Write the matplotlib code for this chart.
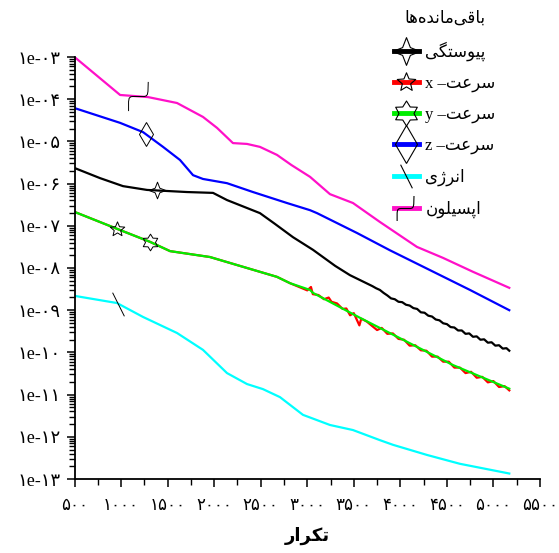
import numpy as np
import matplotlib
matplotlib.use("Agg")
import matplotlib.pyplot as plt
from matplotlib.path import Path
from matplotlib.lines import Line2D
from matplotlib.ticker import FixedLocator, LogLocator, FuncFormatter, NullFormatter

# residual history, log10 of residual against iteration
cont_it = [500, 774, 1021, 1279, 1708, 1988, 2138, 2492, 2650, 2847, 3062, 3300, 3459,
           3700, 3740, 3780, 3820, 3860, 3900, 3940, 3980, 4020, 4060, 4100, 4140, 4180,
           4220, 4260, 4300, 4340, 4380, 4420, 4460, 4500, 4540, 4580, 4620, 4660, 4700,
           4740, 4780, 4820, 4860, 4900, 4940, 4980, 5020, 5060, 5100, 5140, 5170]
cont_log = [-5.63, -5.87, -6.06, -6.15, -6.20, -6.22, -6.39, -6.70, -6.95, -7.27, -7.57, -7.95, -8.17,
            -8.43, -8.48, -8.52, -8.59, -8.65, -8.72, -8.74, -8.80, -8.81, -8.87, -8.89, -8.95, -8.97,
            -9.05, -9.06, -9.13, -9.15, -9.22, -9.24, -9.31, -9.33, -9.40, -9.41, -9.48, -9.48, -9.56,
            -9.55, -9.63, -9.62, -9.70, -9.69, -9.77, -9.76, -9.84, -9.83, -9.91, -9.90, -9.96]

vy_it = [500, 989, 1311, 1526, 1955, 2353, 2675, 2815, 3030, 3062, 3566, 4135, 4565, 5170]
vy_log = [-6.67, -7.10, -7.38, -7.60, -7.74, -8.00, -8.21, -8.36, -8.52, -8.59, -9.18, -9.82, -10.30, -10.86]

vx_it = [500, 989, 1311, 1526, 1955, 2353, 2675, 2815, 3000, 3040, 3060, 3120, 3180, 3230,
         3260, 3320, 3380, 3420, 3460, 3500, 3560, 3580, 3640, 3700, 3750, 3800, 3860, 3920,
         3980, 4040, 4100, 4160, 4220, 4280, 4340, 4400, 4460, 4520, 4580, 4640, 4700, 4760,
         4820, 4880, 4940, 5000, 5060, 5120, 5170]
vx_log = [-6.67, -7.10, -7.38, -7.60, -7.74, -8.00, -8.21, -8.36, -8.53, -8.45, -8.62, -8.64, -8.74, -8.70,
          -8.80, -8.84, -8.97, -8.96, -9.12, -9.07, -9.36, -9.20, -9.27, -9.38, -9.47, -9.42, -9.56, -9.55,
          -9.68, -9.70, -9.84, -9.83, -9.95, -9.96, -10.10, -10.10, -10.22, -10.22, -10.36, -10.36, -10.49, -10.46,
          -10.60, -10.58, -10.71, -10.68, -10.82, -10.80, -10.90]

vz_it = [500, 989, 1236, 1451, 1633, 1773, 1880, 2138, 2417, 2782, 3030, 3105, 3534, 3888, 4318, 4748, 5170]
vz_log = [-4.21, -4.56, -4.78, -5.13, -5.44, -5.80, -5.89, -5.99, -6.20, -6.46, -6.63, -6.70, -7.17,
          -7.58, -8.05, -8.52, -9.00]

en_it = [500, 956, 1236, 1601, 1880, 2138, 2353, 2524, 2707, 2954, 3244, 3491, 3781, 3921, 4286, 4640, 5170]
en_log = [-8.66, -8.83, -9.16, -9.54, -9.94, -10.49, -10.75, -10.87, -11.06, -11.48, -11.72, -11.84,
          -12.08, -12.19, -12.43, -12.64, -12.87]

eps_it = [500, 990, 1290, 1601, 1880, 2031, 2202, 2353, 2492, 2675, 2830, 3030, 3244, 3491, 3781,
          4178, 4458, 4780, 5170]
eps_log = [-3.00, -3.90, -3.95, -4.09, -4.42, -4.68, -5.04, -5.06, -5.13, -5.32, -5.56, -5.84, -6.25,
           -6.46, -6.91, -7.50, -7.76, -8.09, -8.47]

# iteration where each series carries its symbol
mark_it = {"cont": 1386, "vx": 956, "vy": 1311, "vz": 1268, "en": 966, "eps": 1190}

x_ticks = [500, 1000, 1500, 2000, 2500, 3000, 3500, 4000, 4500, 5000, 5500]

FA_DIGITS = str.maketrans("0123456789", "۰۱۲۳۴۵۶۷۸۹")

# contextual forms: isolated, final, initial, medial
FORMS = {
    "ا": ("\uFE8D", "\uFE8E", None, None),
    "ب": ("\uFE8F", "\uFE90", "\uFE91", "\uFE92"),
    "پ": ("\uFB56", "\uFB57", "\uFB58", "\uFB59"),
    "ت": ("\uFE95", "\uFE96", "\uFE97", "\uFE98"),
    "س": ("\uFEB1", "\uFEB2", "\uFEB3", "\uFEB4"),
    "ع": ("\uFEC9", "\uFECA", "\uFECB", "\uFECC"),
    "ر": ("\uFEAD", "\uFEAE", None, None),
    "ز": ("\uFEAF", "\uFEB0", None, None),
    "ژ": ("\uFB8A", "\uFB8B", None, None),
    "ک": ("\uFB8E", "\uFB8F", "\uFB90", "\uFB91"),
    "گ": ("\uFB92", "\uFB93", "\uFB94", "\uFB95"),
    "ی": ("\uFBFC", "\uFBFD", "\uFBFE", "\uFBFF"),
    "ق": ("\uFED5", "\uFED6", "\uFED7", "\uFED8"),
    "م": ("\uFEE1", "\uFEE2", "\uFEE3", "\uFEE4"),
    "ن": ("\uFEE5", "\uFEE6", "\uFEE7", "\uFEE8"),
    "د": ("\uFEA9", "\uFEAA", None, None),
    "ه": ("\uFEE9", "\uFEEA", "\uFEEB", "\uFEEC"),
    "و": ("\uFEED", "\uFEEE", None, None),
    "ل": ("\uFEDD", "\uFEDE", "\uFEDF", "\uFEE0"),
}


def fa(word):
    # join letters and flip to visual order, matplotlib draws left to right
    out = []
    for i, c in enumerate(word):
        if c not in FORMS:
            if c != "\u200c":
                out.append(c)
            continue
        prev = word[i - 1] if i > 0 else None
        nxt = word[i + 1] if i + 1 < len(word) else None
        jp = prev in FORMS and FORMS[prev][2] is not None
        jn = FORMS[c][2] is not None and nxt in FORMS
        if jp and jn:
            out.append(FORMS[c][3])
        elif jp:
            out.append(FORMS[c][1])
        elif jn:
            out.append(FORMS[c][2])
        else:
            out.append(FORMS[c][0])
    return "".join(reversed(out))


def star_path(n, r_in):
    ang = np.pi / 2 + np.arange(2 * n) * np.pi / n
    rad = np.where(np.arange(2 * n) % 2 == 0, 1.0, r_in)
    v = np.column_stack([rad * np.cos(ang), rad * np.sin(ang)])
    return Path(np.vstack([v, v[:1]]), closed=True)


sparkle = Path([(0, 1.0), (0.28, 0.28), (1, 0), (0.28, -0.28), (0, -1.0), (-0.28, -0.28),
                (-1, 0), (-0.28, 0.28), (0, 1.0)], closed=True)
star5 = star_path(5, 0.45)
star6 = star_path(6, 0.6)
slash = Path([(-0.5, 1), (0.5, -1)], [Path.MOVETO, Path.LINETO])
squiggle = Path([(-0.75, -1), (-0.75, -0.35), (-0.71, -0.12), (-0.6, -0.02), (-0.45, 0), (0.34, 0),
                 (0.46, 0.04), (0.54, 0.14), (0.58, 0.35), (0.6, 1)],
                [Path.MOVETO] + [Path.LINETO] * 9)

fam = ["Liberation Serif", "DejaVu Sans"]

fig = plt.figure(figsize=(5.59, 5.53), dpi=100)
ax = fig.add_axes([74.5 / 559, 1 - 479 / 553, (540 - 74.5) / 559, (479 - 57) / 553])

series = [
    ("vx", vx_it, vx_log, "#ff0000", star5, 11, 14, "x –" + fa("سرعت")),
    ("vy", vy_it, vy_log, "#00ee00", star6, 12, 18, "y –" + fa("سرعت")),
    ("cont", cont_it, cont_log, "black", sparkle, 12, 20, fa("پیوستگی")),
    ("vz", vz_it, vz_log, "#0000ff", "d", 12, 19, "z –" + fa("سرعت")),
    ("en", en_it, en_log, "#00ffff", slash, 17, 17, fa("انرژی")),
    ("eps", eps_it, eps_log, "#ff10c8", squiggle, 21, 18, fa("اپسیلون")),
]

handles = {}
for key, it, lg, col, mk, ms, ms_leg, label in series:
    ax.plot(it, 10.0 ** np.array(lg), color=col, lw=1.6, zorder=2)
    xm = mark_it[key]
    ym = 10.0 ** np.interp(xm, it, lg)
    ax.plot([xm], [ym], ls="none", marker=mk, ms=ms, mec="black", mfc="none", mew=0.7, zorder=3)
    handles[key] = Line2D([], [], color=col, lw=3.5, marker=mk, ms=ms_leg, mec="black",
                          mfc="none", mew=0.8, label=label)

ax.set_yscale("log")
ax.set_xlim(500, 5500)
ax.set_ylim(1e-13, 1e-3)

for s in ["top", "right"]:
    ax.spines[s].set_visible(False)
for s in ["left", "bottom"]:
    ax.spines[s].set_linewidth(1.3)

ax.xaxis.set_major_locator(FixedLocator(x_ticks))
ax.xaxis.set_minor_locator(FixedLocator(np.arange(750, 5500, 500)))
ax.xaxis.set_major_formatter(FuncFormatter(lambda v, p: str(int(v)).translate(FA_DIGITS)))
ax.yaxis.set_major_locator(LogLocator(base=10, numticks=20))
ax.yaxis.set_minor_locator(LogLocator(base=10, subs=np.arange(2, 10), numticks=20))
ax.yaxis.set_minor_formatter(NullFormatter())
ax.yaxis.set_major_formatter(FuncFormatter(
    lambda v, p: ("1e-%02d" % round(-np.log10(v))).translate(FA_DIGITS)))
ax.tick_params(axis="both", which="major", length=6, width=1.1, labelsize=13, pad=4)
ax.tick_params(axis="both", which="minor", length=4, width=1.0)
ax.tick_params(axis="x", which="major", labelsize=12, pad=8)
for t in ax.get_xticklabels() + ax.get_yticklabels():
    t.set_family(fam)

ax.set_xlabel(fa("تکرار"), fontsize=13, fontweight="bold", family="DejaVu Sans", labelpad=9)

order = ["cont", "vx", "vy", "vz", "en", "eps"]
leg = ax.legend(handles=[handles[k] for k in order], title=fa("باقی\u200cمانده\u200cها"),
                frameon=False, loc="upper left", bbox_to_anchor=(382 / 559, 1 + 3 / 553),
                bbox_transform=fig.transFigure, prop={"family": fam, "size": 12},
                title_fontproperties={"family": "DejaVu Sans", "size": 12},
                handlelength=1.5, handletextpad=0.4, labelspacing=0.88, borderpad=0.2)

fig.savefig("out.png", dpi=100)
